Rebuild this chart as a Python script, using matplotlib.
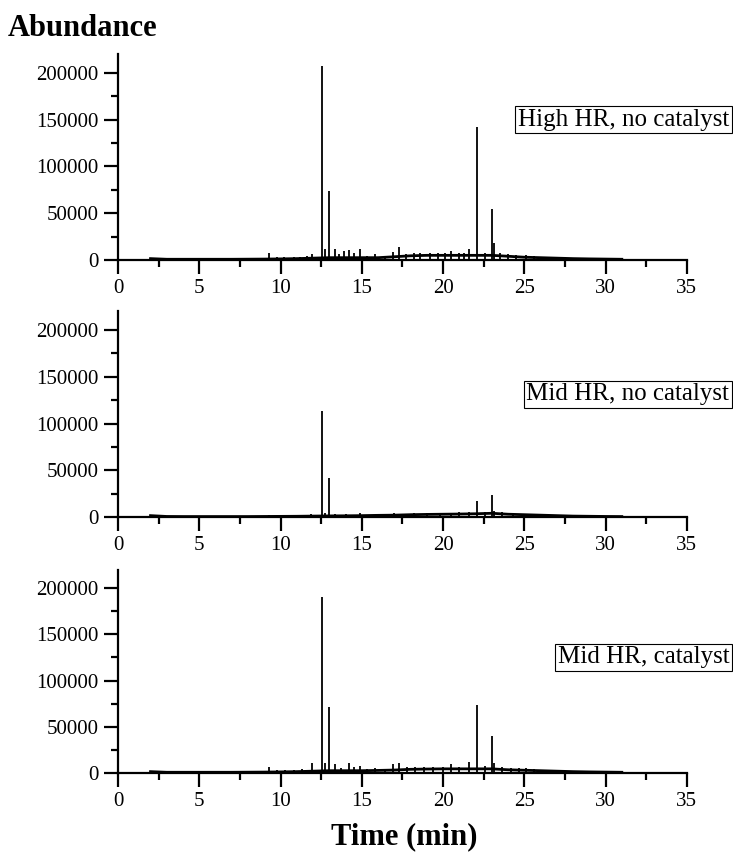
import numpy as np
import matplotlib.pyplot as plt
from matplotlib.ticker import MultipleLocator

plt.rcParams['font.family'] = ['Liberation Serif', 'DejaVu Serif']

# baseline drift (time in min, abundance)
base_t = [2, 3, 4, 5, 6, 7, 8, 9, 10, 11, 12, 13, 14, 15, 16, 17, 18, 19, 20,
          21, 22, 23, 24, 25, 26, 27, 28, 29, 30, 31]
base_high = [1500, 800, 800, 800, 800, 800, 900, 1000, 1200, 1500, 2000, 2500,
             2500, 2500, 2500, 3500, 4500, 5000, 5000, 5000, 5000, 5000, 4000,
             3000, 2500, 2000, 1500, 1200, 1000, 800]
base_mid = [1500, 600, 500, 500, 500, 500, 500, 600, 700, 800, 1000, 1200,
            1300, 1500, 1800, 2000, 2500, 2800, 3000, 3200, 3500, 4000, 3000,
            2500, 2000, 1500, 1000, 800, 600, 500]
base_cat = [1500, 800, 800, 800, 800, 800, 900, 1000, 1200, 1500, 2000, 2500,
            2500, 2500, 2800, 3200, 4000, 4300, 4500, 4500, 4500, 4500, 3500,
            3000, 2500, 2000, 1500, 1200, 1000, 800]

# peaks (retention time, height)
peak_t_high = [8.8, 9.3, 9.8, 10.2, 10.8, 11.2, 11.6, 11.95, 12.55, 12.75,
               13.0, 13.33, 13.6, 13.9, 14.2, 14.5, 14.87, 15.3, 15.8, 16.4,
               16.9, 17.3, 17.7, 18.2, 18.6, 19.2, 19.7, 20.1, 20.5, 21.0,
               21.3, 21.6, 22.1, 22.6, 23.0, 23.15, 23.5, 24.0, 24.5, 25.1,
               25.6, 26.4]
peak_h_high = [2500, 7400, 3500, 3000, 3500, 3500, 4500, 6000, 207400, 11700,
               73400, 11700, 6000, 9500, 10600, 7000, 11700, 4500, 6000, 4500,
               8500, 13800, 6500, 7000, 8000, 7000, 7500, 7000, 9500, 7500,
               8000, 11700, 142500, 8000, 54300, 18400, 8000, 6000, 5500, 5000,
               4000, 3500]
peak_t_mid = [9.3, 10.5, 11.2, 11.9, 12.55, 12.75, 13.0, 13.35, 14.0, 14.87,
              15.8, 16.5, 17.0, 17.3, 18.2, 19.0, 19.8, 20.5, 21.0, 21.6,
              22.1, 22.6, 23.0, 23.15, 23.6, 24.3, 25.1]
peak_h_mid = [2500, 2000, 2000, 3500, 113700, 4000, 41700, 3500, 3000, 4000,
              2500, 3000, 4000, 3500, 4000, 4000, 4500, 4500, 5000, 5000,
              17100, 5000, 23500, 6000, 5000, 4000, 3000]
peak_t_cat = [8.8, 9.3, 9.8, 10.3, 10.8, 11.3, 11.95, 12.55, 12.75, 13.0,
              13.35, 13.7, 14.2, 14.5, 14.87, 15.3, 15.8, 16.4, 16.9, 17.3,
              17.8, 18.3, 18.8, 19.4, 20.0, 20.5, 21.0, 21.6, 22.1, 22.6,
              23.0, 23.15, 23.6, 24.2, 24.7, 25.1, 25.6, 26.5]
peak_h_cat = [2500, 7000, 3500, 3000, 3500, 4000, 10800, 190000, 11000, 71000,
              10000, 5500, 10800, 6000, 7600, 4500, 5000, 4500, 9700, 10800,
              6000, 7000, 7000, 6500, 7000, 9700, 7000, 11900, 73500, 7500,
              40300, 11000, 7000, 5500, 5000, 5000, 4000, 3000]

labels = ["High HR, no catalyst", "Mid HR, no catalyst", "Mid HR, catalyst"]
label_y = [150000, 131500, 125000]

fig = plt.figure(figsize=(7.33, 8.59), dpi=100)
boxes = [[0.161, 0.6973, 0.776, 0.2398],
         [0.161, 0.3981, 0.776, 0.2395],
         [0.161, 0.1001, 0.776, 0.2369]]
data = [(base_high, peak_t_high, peak_h_high),
        (base_mid, peak_t_mid, peak_h_mid),
        (base_cat, peak_t_cat, peak_h_cat)]

for i, (b, pt, ph) in enumerate(data):
    ax = fig.add_axes(boxes[i])
    ax.plot(base_t, b, color='black', lw=2.0)
    ax.vlines(pt, 0, ph, color='black', lw=1.3)
    ax.set_xlim(0, 35)
    ax.set_ylim(0, 220000)
    ax.spines['top'].set_visible(False)
    ax.spines['right'].set_visible(False)
    ax.spines['left'].set_linewidth(1.6)
    ax.spines['bottom'].set_linewidth(1.6)
    ax.xaxis.set_major_locator(MultipleLocator(5))
    ax.xaxis.set_minor_locator(MultipleLocator(2.5))
    ax.yaxis.set_minor_locator(MultipleLocator(25000))
    ax.set_yticks([0, 50000, 100000, 150000, 200000])
    ax.tick_params(which='major', length=10, width=1.6, labelsize=15, pad=4)
    ax.tick_params(which='minor', length=5, width=1.6)
    ax.text(1.0745, label_y[i], labels[i], transform=ax.get_yaxis_transform(),
            ha='right', va='center', fontsize=18,
            bbox=dict(boxstyle='square,pad=0.1', fc='white', ec='black', lw=0.8),
            clip_on=False)

fig.text(0.011, 0.967, "Abundance", fontsize=22, fontweight='bold',
         ha='left', va='center')
fig.text(0.552, 0.026, "Time (min)", fontsize=22, fontweight='bold',
         ha='center', va='center')

fig.savefig("out.png", dpi=100)
